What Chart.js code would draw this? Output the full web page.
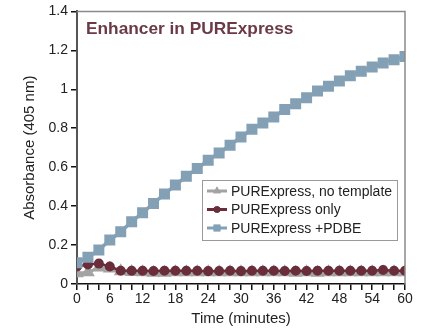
<!DOCTYPE html>
<html>
<head>
<meta charset="utf-8">
<script src="https://cdn.jsdelivr.net/npm/chart.js@4"></script>
<style>
  html, body { margin: 0; padding: 0; background: #fff; }
  #wrap { width: 421px; height: 328px; }
</style>
</head>
<body>
<div id="wrap"><canvas id="chart" width="421" height="328"></canvas></div>
<script>
// time points, every 2 minutes
const minutes = [0, 2, 4, 6, 8, 10, 12, 14, 16, 18, 20, 22, 24, 26, 28, 30,
                 32, 34, 36, 38, 40, 42, 44, 46, 48, 50, 52, 54, 56, 58, 60];

const noTemplate = [0.055, 0.06, 0.085, 0.08, 0.065, 0.062, 0.06, 0.058, 0.058, 0.06, 0.06,
                    0.06, 0.06, 0.06, 0.06, 0.06, 0.06, 0.06, 0.06, 0.06, 0.058,
                    0.06, 0.058, 0.06, 0.06, 0.06, 0.06, 0.06, 0.06, 0.06, 0.06];

const pureOnly = [0.09, 0.1, 0.105, 0.09, 0.068, 0.068, 0.068, 0.067, 0.068, 0.068, 0.068,
                  0.068, 0.066, 0.067, 0.068, 0.066, 0.068, 0.068, 0.068, 0.067, 0.068,
                  0.067, 0.068, 0.068, 0.068, 0.068, 0.068, 0.068, 0.072, 0.068, 0.068];

const pdbe = [0.109, 0.137, 0.174, 0.226, 0.268, 0.32, 0.366, 0.414, 0.462, 0.508, 0.553,
              0.593, 0.636, 0.673, 0.713, 0.755, 0.795, 0.827, 0.858, 0.896, 0.926,
              0.957, 0.991, 1.015, 1.043, 1.07, 1.092, 1.114, 1.135, 1.152, 1.169];

const seriesNames = ['PURExpress, no template', 'PURExpress only', 'PURExpress +PDBE'];
const yTicks = [0, 0.2, 0.4, 0.6, 0.8, 1, 1.2, 1.4];

const toPoints = vals => vals.map((v, i) => ({ x: minutes[i], y: v }));

const FONT = '"Liberation Sans", Arial, sans-serif';

// title + legend live inside the plot box
const boxPlugin = {
    id: 'box',
    afterDraw(chart) {
        const ctx = chart.ctx;
        const a = chart.chartArea;
        ctx.save();
        // top/right frame
        ctx.strokeStyle = '#8a8a8a';
        ctx.lineWidth = 1.5;
        ctx.beginPath();
        ctx.moveTo(a.left, a.top);
        ctx.lineTo(a.right, a.top);
        ctx.lineTo(a.right, a.bottom);
        ctx.stroke();

        ctx.fillStyle = '#6b3a47';
        ctx.font = 'bold 17.3px ' + FONT;
        ctx.textBaseline = 'alphabetic';
        ctx.fillText('Enhancer in PURExpress', a.left + 9, a.top + 23);

        // legend
        const lx = 202, ly = 180, lw = 195, lh = 60;
        ctx.strokeStyle = '#9a9a9a';
        ctx.lineWidth = 1;
        ctx.fillStyle = '#fff';
        ctx.fillRect(lx, ly, lw, lh);
        ctx.strokeRect(lx + 0.5, ly + 0.5, lw, lh);
        ctx.font = '14px ' + FONT;
        ctx.textBaseline = 'middle';
        chart.data.datasets.forEach((ds, i) => {
            const y = ly + 11 + i * 18.5;
            ctx.strokeStyle = ds.borderColor;
            ctx.lineWidth = 3;
            ctx.beginPath();
            ctx.moveTo(lx + 5, y);
            ctx.lineTo(lx + 25, y);
            ctx.stroke();
            ctx.save();
            ctx.fillStyle = ds.pointBackgroundColor;
            Chart.helpers.drawPoint(ctx, {
                pointStyle: ds.pointStyle, radius: ds.pointRadius - 0.5, borderWidth: 0
            }, lx + 15, y);
            ctx.fill();
            ctx.restore();
            ctx.fillStyle = '#222';
            ctx.fillText(seriesNames[i], lx + 29, y + 1);
        });
        ctx.restore();
    }
};

new Chart(document.getElementById('chart').getContext('2d'), {
    type: 'scatter',
    data: {
        datasets: [
            {
                label: seriesNames[0],
                data: toPoints(noTemplate),
                borderColor: '#a3a3a3',
                backgroundColor: '#a3a3a3',
                pointBackgroundColor: '#a3a3a3',
                pointStyle: 'triangle',
                pointRadius: 5,
                borderWidth: 3,
                showLine: true,
                order: 3
            },
            {
                label: seriesNames[1],
                data: toPoints(pureOnly),
                borderColor: '#6a2e3a',
                backgroundColor: '#6a2e3a',
                pointBackgroundColor: '#6a2e3a',
                pointStyle: 'circle',
                pointRadius: 3.8,
                borderWidth: 2.5,
                showLine: true,
                order: 2
            },
            {
                label: seriesNames[2],
                data: toPoints(pdbe),
                borderColor: '#83a0b5',
                backgroundColor: '#83a0b5',
                pointBackgroundColor: '#83a0b5',
                pointStyle: 'rect',
                pointRadius: 5.3,
                borderWidth: 3.5,
                showLine: true,
                order: 1
            }
        ]
    },
    options: {
        responsive: false,
        animation: false,
        layout: { padding: { top: 11, right: 16, left: 21, bottom: 0 } },
        plugins: {
            legend: { display: false },
            tooltip: { enabled: false }
        },
        scales: {
            x: {
                type: 'linear',
                min: 0,
                max: 60,
                afterFit(scale) { scale.height = 44; },
                border: { color: '#111', width: 1.5 },
                grid: { drawOnChartArea: false, drawTicks: true, tickLength: 6, color: '#111', lineWidth: 1.5 },
                ticks: {
                    stepSize: 2,
                    autoSkip: false,
                    maxRotation: 0,
                    padding: 1,
                    color: '#222',
                    font: { family: FONT, size: 14 },
                    callback: v => (v % 6 === 0 ? String(v) : '')
                },
                title: {
                    display: true,
                    text: 'Time (minutes)',
                    color: '#222',
                    font: { family: FONT, size: 15 },
                    padding: { top: 2, bottom: 0 }
                }
            },
            y: {
                min: 0,
                max: 1.4,
                afterFit(scale) { scale.width = 56; },
                afterBuildTicks(scale) { scale.ticks = yTicks.map(v => ({ value: v })); },
                border: { color: '#555', width: 2 },
                grid: { drawOnChartArea: false, drawTicks: true, tickLength: 6, color: '#111', lineWidth: 1.5 },
                ticks: {
                    padding: 3,
                    color: '#222',
                    font: { family: FONT, size: 14 },
                    callback: v => String(Math.round(v * 10) / 10)
                },
                title: {
                    display: true,
                    text: 'Absorbance (405 nm)',
                    color: '#222',
                    font: { family: FONT, size: 15 },
                    padding: { top: 0, bottom: 0 }
                }
            }
        }
    },
    plugins: [boxPlugin]
});
</script>
</body>
</html>
